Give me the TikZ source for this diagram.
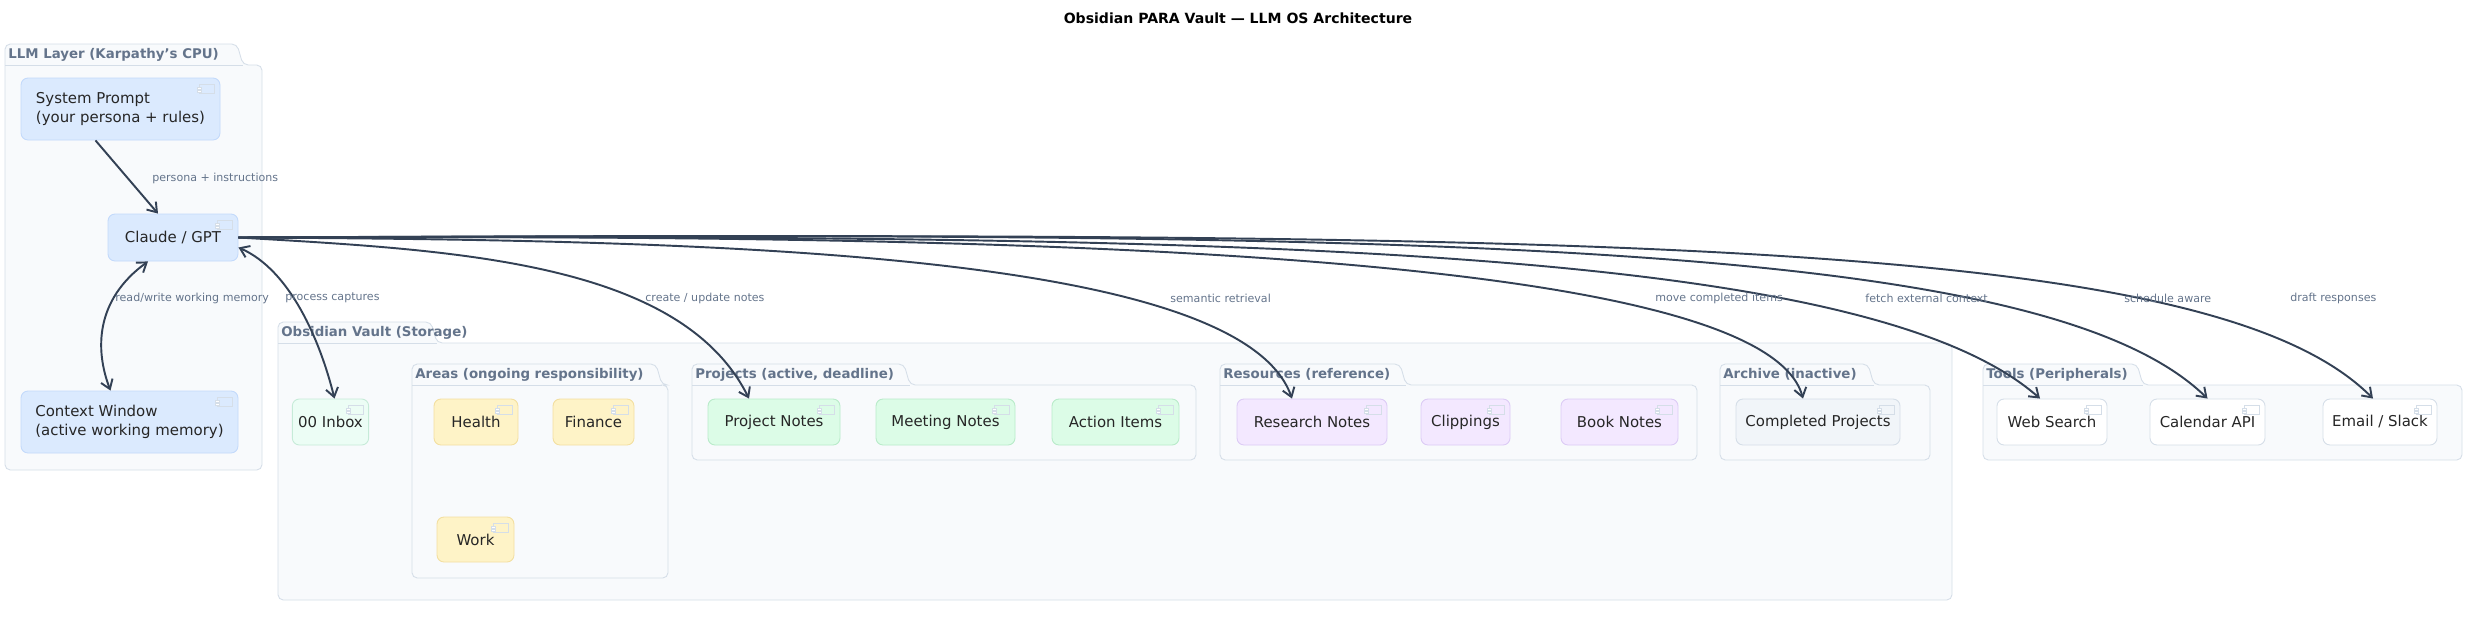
\documentclass[tikz,border=0pt]{standalone}
\usepackage{fontspec}
\setmainfont{DejaVu Sans}
\usetikzlibrary{positioning,arrows.meta}

\definecolor{pkgfill}{HTML}{F8FAFC}
\definecolor{pkgline}{HTML}{D5DEE8}
\definecolor{pkgtext}{HTML}{64748B}
\definecolor{wire}{HTML}{334155}
\definecolor{llmfill}{HTML}{DBEAFE}
\definecolor{llmline}{HTML}{C3DAFB}
\definecolor{inbfill}{HTML}{ECFDF5}
\definecolor{inbline}{HTML}{C6EBD8}
\definecolor{areafill}{HTML}{FEF3C7}
\definecolor{arealine}{HTML}{F3DFA0}
\definecolor{projfill}{HTML}{DCFCE7}
\definecolor{projline}{HTML}{B8EBC9}
\definecolor{resfill}{HTML}{F3E8FF}
\definecolor{resline}{HTML}{DCCBF5}
\definecolor{archfill}{HTML}{F1F5F9}
\definecolor{archline}{HTML}{D5DEE8}
\definecolor{toolline}{HTML}{D5DEE8}

\tikzset{
  comp/.style = {shape = rectangle, rounded corners = 4pt, font = \fontsize{8.5}{10.5}\selectfont,
                 align = left, text = black!85, line width = 0.5pt},
  wd/.style   = {minimum width = #1*0.02cm},
  ht/.style   = {minimum height = #1*0.02cm},
  llm/.style  = {comp, fill = llmfill, draw = llmline},
  inb/.style  = {comp, fill = inbfill, draw = inbline},
  area/.style = {comp, fill = areafill, draw = arealine},
  proj/.style = {comp, fill = projfill, draw = projline},
  res/.style  = {comp, fill = resfill, draw = resline},
  arch/.style = {comp, fill = archfill, draw = archline},
  tool/.style = {comp, fill = white, draw = toolline},
  lbl/.style  = {font = \fontsize{6.3}{7}\selectfont, text = pkgtext, anchor = west, inner sep = 0pt},
  link/.style = {draw = wire, line width = 1.1pt, -{Straight Barb[length=5pt,width=7pt]}},
  both/.style = {link, {Straight Barb[length=5pt,width=7pt]}-{Straight Barb[length=5pt,width=7pt]}}
}

% package frame: x1 y1 x2 y2 tabwidth label  (tab sits above y1)
\newcommand{\pkgbox}[6]{%
  \draw[pkgline, fill = pkgfill, line width = 0.5pt, rounded corners = 3pt]
    (#1,#2-21) -- (#1+#5,#2-21) -- (#1+#5+6,#2) -- (#3,#2) -- (#3,#4) -- (#1,#4) -- cycle;
  \draw[pkgline, line width = 0.5pt] (#1,#2) -- (#1+#5+6,#2);
  \node[anchor = west, font = \bfseries\fontsize{7.6}{9}\selectfont, text = pkgtext, inner sep = 0pt]
    at (#1+3,#2-10.5) {#6};}

% small component glyph in a node's upper right corner
\newcommand{\glyph}[1]{%
  \draw[pkgline, line width = 0.4pt] ([shift = {(-21,7)}]#1.north east) rectangle ++(15,9);
  \draw[pkgline, fill = white, line width = 0.4pt] ([shift = {(-23,10)}]#1.north east) rectangle ++(4,2)
    ([shift = {(-23,13)}]#1.north east) rectangle ++(4,2);}

\begin{document}
\begin{tikzpicture}[x = 0.02cm, y = -0.02cm]
\useasboundingbox (0,0) rectangle (2476,616);

\node[font = \bfseries\fontsize{8}{10}\selectfont] (title) at (1238,18) {Obsidian PARA Vault — LLM OS Architecture};

% packages
\pkgbox{5}{65}{262}{470}{232}{LLM Layer (Karpathy's CPU)}
\pkgbox{278}{343}{1952}{600}{153}{Obsidian Vault (Storage)}
\pkgbox{412}{385}{668}{578}{244}{Areas (ongoing responsibility)}
\pkgbox{692}{385}{1196}{460}{212}{Projects (active, deadline)}
\pkgbox{1220}{385}{1697}{460}{180}{Resources (reference)}
\pkgbox{1720}{385}{1930}{460}{148}{Archive (inactive)}
\pkgbox{1983}{385}{2462}{460}{154}{Tools (Peripherals)}

% LLM layer
\node[llm, wd = 199, ht = 62] (sys) at (120.5,109) {System Prompt\\(your persona + rules)};
\node[llm, wd = 130, ht = 47] (claude) at (173,237.5) {Claude / GPT};
\node[llm, wd = 217, ht = 62] (ctx) at (129.5,422) {Context Window\\(active working memory)};

% vault
\node[inb, wd = 75, ht = 46] (inbox) at (330.5,422) {00 Inbox};
\node[area, wd = 84, ht = 46] (health) at (476,422) {Health};
\node[area, wd = 81, ht = 46] (finance) at (593.5,422) {Finance};
\node[area, wd = 77, ht = 45] (work) at (475.5,539.5) {Work};
\node[proj, wd = 132, ht = 46] (pnotes) at (774,422) {Project Notes};
\node[proj, wd = 139, ht = 46] (meet) at (945.5,422) {Meeting Notes};
\node[proj, wd = 127, ht = 46] (action) at (1115.5,422) {Action Items};
\node[res, wd = 150, ht = 46] (research) at (1312,422) {Research Notes};
\node[res, wd = 89, ht = 46] (clip) at (1465.5,422) {Clippings};
\node[res, wd = 117, ht = 46] (book) at (1619.5,422) {Book Notes};
\node[arch, wd = 164, ht = 46] (done) at (1818,422) {Completed Projects};

% tools
\node[tool, wd = 110, ht = 46] (web) at (2052,422) {Web Search};
\node[tool, wd = 115, ht = 46] (cal) at (2207.5,422) {Calendar API};
\node[tool, wd = 114, ht = 46] (mail) at (2380,422) {Email / Slack};

\foreach \n in {sys,claude,ctx,inbox,health,finance,work,pnotes,meet,action,research,clip,book,done,web,cal,mail}
  \glyph{\n};

% connectors
\draw[link] ([xshift = -0.5cm]sys.south) -- ([xshift = -0.3cm]claude.north);
\draw[both] ([xshift = -0.5cm]claude.south) .. controls (95,300) and (95,350) .. ([xshift = -0.38cm]ctx.north);
\draw[both] ([yshift = -0.2cm]claude.east) .. controls (290,270) and (320,340) .. ([xshift = 0.08cm]inbox.north);
\draw[link] (claude.east) .. controls (450,250) and (680,260) .. ([xshift = -0.5cm]pnotes.north);
\draw[link] (claude.east) .. controls (700,240) and (1240,250) .. ([xshift = -0.4cm]research.north);
\draw[link] (claude.east) .. controls (900,235) and (1760,240) .. ([xshift = -0.3cm]done.north);
\draw[link] (claude.east) .. controls (1200,235) and (1860,240) .. ([xshift = -0.24cm]web.north);
\draw[link] (claude.east) .. controls (1400,232) and (2040,235) .. (cal.north);
\draw[link] (claude.east) .. controls (1600,232) and (2210,235) .. ([xshift = -0.14cm]mail.north);

% connector labels
\node[lbl] (l1) at (152,178) {persona + instructions};
\node[lbl] (l2) at (115,298) {read/write working memory};
\node[lbl] (l3) at (285,298) {process captures};
\node[lbl] (l4) at (645,298) {create / update notes};
\node[lbl] (l5) at (1170,298) {semantic retrieval};
\node[lbl] (l6) at (1655,298) {move completed items};
\node[lbl] (l7) at (1865,298) {fetch external context};
\node[lbl] (l8) at (2124,298) {schedule aware};
\node[lbl] (l9) at (2290,298) {draft responses};
\end{tikzpicture}
\end{document}
